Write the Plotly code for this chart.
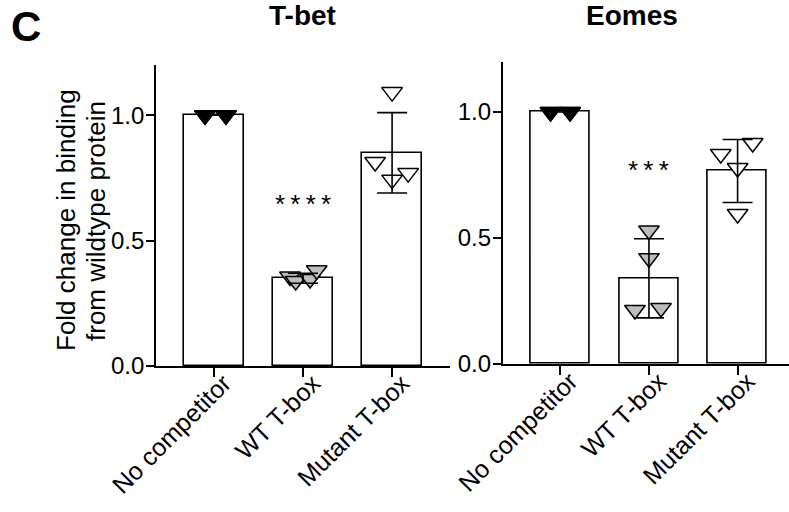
import plotly.graph_objects as go

# ---------------- data ----------------
categories = ["No competitor", "WT T-box", "Mutant T-box"]

tbet_mean = [1.0, 0.35, 0.85]
tbet_sd = [0.0, 0.02, 0.16]
eomes_mean = [1.0, 0.34, 0.766]
eomes_sd = [0.0, 0.157, 0.125]

tbet_nocomp = [1.0, 1.0, 1.0, 1.0]
tbet_wt = [0.357, 0.339, 0.347, 0.382]
tbet_mut = [1.092, 0.813, 0.743, 0.769]

eomes_nocomp = [1.0, 1.0, 1.0, 1.0]
eomes_wt = [0.53, 0.42, 0.214, 0.222]
eomes_mut = [0.833, 0.877, 0.778, 0.595]

sig_tbet = "****"
sig_eomes = "***"
y_ticks = [0.0, 0.5, 1.0]
y_ticktext = ["0.0", "0.5", "1.0"]

# ---------------- layout constants (positions / styles) ----------------
jit_tbet = [[-0.1, -0.1, 0.135, 0.135],
            [-0.146, -0.082, 0.079, 0.154],
            [0.0, -0.19, 0.0, 0.18]]
jit_eomes = [[-0.11, -0.11, 0.11, 0.11],
             [0.0, 0.0, -0.158, 0.136],
             [-0.19, 0.17, 0.0, 0.0]]
sig_y_tbet = 0.645
sig_y_eomes = 0.77

FONT = "Liberation Sans, Arial, sans-serif"
W, H = 789, 512
marker_styles = [
    dict(color="black", line=dict(color="black", width=1.5)),
    dict(color="#bdbdbd", line=dict(color="black", width=1.5)),
    dict(color="white", line=dict(color="black", width=1.5)),
]

fig = go.Figure()
x_idx = [0, 1, 2]


def add_panel(xa, ya, means, sds, groups, jits):
    fig.add_trace(go.Bar(
        x=x_idx, y=means, width=0.665, xaxis=xa, yaxis=ya,
        marker=dict(color="white", line=dict(color="black", width=1.6)),
        showlegend=False, hoverinfo="skip"))
    for gi, (vals, jit) in enumerate(zip(groups, jits)):
        fig.add_trace(go.Scatter(
            x=[gi + j for j in jit], y=vals, mode="markers", xaxis=xa, yaxis=ya,
            marker=dict(symbol="triangle-down", size=18, **marker_styles[gi]),
            showlegend=False, hoverinfo="skip", cliponaxis=False))
    fig.add_trace(go.Scatter(
        x=x_idx, y=means, mode="markers", xaxis=xa, yaxis=ya,
        marker=dict(size=1, color="rgba(0,0,0,0)"),
        error_y=dict(type="data", array=sds, visible=True, color="black",
                     thickness=1.6, width=15),
        showlegend=False, hoverinfo="skip", cliponaxis=False))


add_panel("x", "y", tbet_mean, tbet_sd, [tbet_nocomp, tbet_wt, tbet_mut], jit_tbet)
add_panel("x2", "y2", eomes_mean, eomes_sd, [eomes_nocomp, eomes_wt, eomes_mut], jit_eomes)

xaxis_common = dict(
    tickvals=x_idx, ticktext=categories, tickangle=-45,
    showline=True, linecolor="black", linewidth=1.6,
    ticks="outside", ticklen=9, tickwidth=1.6, tickcolor="black",
    showgrid=False, zeroline=False, automargin=False,
    ticklabelstandoff=-18, ticklabelshift=10,
    tickfont=dict(family=FONT, size=25, color="black"),
)
yaxis_common = dict(
    range=[0, 1.2], tickvals=y_ticks, ticktext=y_ticktext,
    showline=True, linecolor="black", linewidth=1.6,
    ticks="outside", ticklen=8, tickwidth=1.6, tickcolor="black",
    showgrid=False, zeroline=False, automargin=False,
    ticklabelstandoff=-3,
    tickfont=dict(family=FONT, size=24, color="black"),
)

fig.update_layout(
    width=W, height=H,
    margin=dict(l=0, r=0, t=0, b=0),
    paper_bgcolor="white", plot_bgcolor="white",
    bargap=0,
    xaxis=dict(domain=[156 / W, 450 / W], range=[-0.65, 2.65], anchor="y", **xaxis_common),
    yaxis=dict(domain=[(H - 366) / H, (H - 65) / H], anchor="x", **yaxis_common),
    xaxis2=dict(domain=[502.7 / W, 1.0], range=[-0.65, 2.58], anchor="y2", **xaxis_common),
    yaxis2=dict(domain=[(H - 364) / H, (H - 61.6) / H], anchor="x2", **yaxis_common),
)

annots = [
    dict(text="<b>C</b>", x=26 / W, y=(H - 26) / H, font=dict(size=42)),
    dict(text="<b>T-bet</b>", x=302 / W, y=(H - 15) / H, font=dict(size=28)),
    dict(text="<b>Eomes</b>", x=632 / W, y=(H - 15) / H, font=dict(size=28)),
    dict(text="Fold change in binding", x=66 / W, y=(H - 220) / H, textangle=-90, font=dict(size=26)),
    dict(text="from wildtype protein", x=96 / W, y=(H - 221) / H, textangle=-90, font=dict(size=26)),
]
for a in annots:
    f = dict(family=FONT, color="black")
    f.update(a.pop("font"))
    fig.add_annotation(xref="paper", yref="paper", showarrow=False,
                       xanchor="center", yanchor="middle", font=f, **a)

fig.add_annotation(xref="x", yref="y", x=1, y=sig_y_tbet, text=sig_tbet.replace("*", "*\u2009").strip(),
                   showarrow=False, font=dict(family=FONT, size=26, color="black"))
fig.add_annotation(xref="x2", yref="y2", x=1, y=sig_y_eomes, text=sig_eomes.replace("*", "*\u2009").strip(),
                   showarrow=False, font=dict(family=FONT, size=26, color="black"))

fig.write_html("out.html")
